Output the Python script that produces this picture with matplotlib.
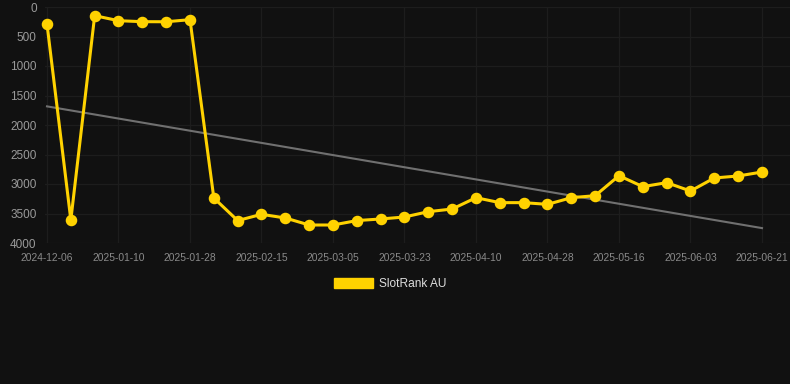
import numpy as np
import matplotlib
matplotlib.use("Agg")
import matplotlib.pyplot as plt
from matplotlib.patches import Patch

plt.rcParams["font.family"] = ["Liberation Sans", "DejaVu Sans"]

dates = [
    "2024-12-06", "2024-12-29", "2025-01-04", "2025-01-10", "2025-01-16",
    "2025-01-22", "2025-01-28", "2025-02-03", "2025-02-09", "2025-02-15",
    "2025-02-21", "2025-02-27", "2025-03-05", "2025-03-11", "2025-03-17",
    "2025-03-23", "2025-03-29", "2025-04-04", "2025-04-10", "2025-04-16",
    "2025-04-22", "2025-04-28", "2025-05-04", "2025-05-10", "2025-05-16",
    "2025-05-22", "2025-05-28", "2025-06-03", "2025-06-09", "2025-06-15",
    "2025-06-21",
]
rank = [
    290, 3610, 147, 232, 249, 250, 215, 3237, 3620, 3514,
    3576, 3695, 3695, 3620, 3593, 3559, 3469, 3424, 3232, 3316,
    3316, 3345, 3232, 3198, 2859, 3045, 2977, 3119, 2898, 2864,
    2797,
]
y_ticks = [0, 500, 1000, 1500, 2000, 2500, 3000, 3500, 4000]

BG = "#111111"
GOLD = "#FFD200"


def main():
    x = np.arange(len(rank))
    vals = np.array(rank, dtype=float)

    fig = plt.figure(figsize=(7.9, 3.84), dpi=100, facecolor=BG)
    ax = fig.add_axes([45 / 790, (384 - 243) / 384, 745 / 790, 236 / 384])
    ax.set_facecolor(BG)

    # trend line (least squares over the series)
    k, b = np.polyfit(x, vals, 1)
    ax.plot(x, k * x + b, color="#707070", lw=1.5, zorder=2, clip_on=False)

    ax.plot(x, vals, color=GOLD, lw=2.2, marker="o", ms=7.3,
            solid_joinstyle="miter", zorder=3, clip_on=False)

    step = 715 / 30
    ax.set_xlim(-2 / step, (790 - 47) / step)
    ax.set_ylim(4000, 0)

    ax.set_xticks(x[::3])
    ax.set_xticklabels(dates[::3])
    ax.set_yticks(y_ticks)
    ax.set_yticklabels([str(v) for v in y_ticks])

    ax.tick_params(axis="x", length=0, pad=7, labelsize=7.4, labelcolor="#8a8a8a")
    ax.tick_params(axis="y", length=0, pad=6, labelsize=8.5, labelcolor="#9a9a9a")

    ax.grid(True, color="#1d1d1d", lw=0.9)
    ax.set_axisbelow(True)
    for s in ax.spines.values():
        s.set_visible(False)

    handle = Patch(facecolor=GOLD, edgecolor=GOLD)
    fig.legend([handle], ["SlotRank AU"], loc="center",
               bbox_to_anchor=(390 / 790, 1 - 284 / 384),
               frameon=False, fontsize=8.6, labelcolor="#dddddd",
               handlelength=3.3, handleheight=1.0, handletextpad=0.5)

    fig.savefig("out.png", dpi=100, facecolor=BG)
    plt.close(fig)


if __name__ == "__main__":
    main()
